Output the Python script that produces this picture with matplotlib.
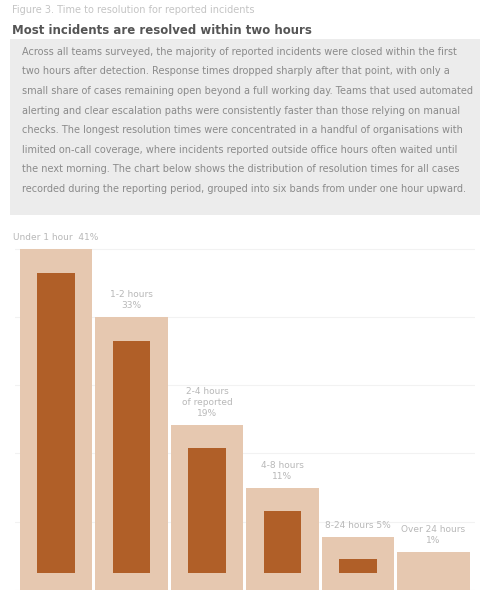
import numpy as np
import matplotlib
matplotlib.use('Agg')
import matplotlib.pyplot as plt
from matplotlib.patches import Rectangle

# -------------------------------
# data
# -------------------------------
categories = ['Under 1 hour', '1-2 hours', '2-4 hours', '4-8 hours', '8-24 hours', 'Over 24 hours']
share_total = [100, 80, 48.5, 30, 15.5, 11]   # light background bars
share_core = [93, 73, 41.5, 23, 9, 0]         # dark inner bars (top)
bar_labels = ['Under 1 hour  41%',
              '1-2 hours\n33%',
              '2-4 hours\nof reported\n19%',
              '4-8 hours\n11%',
              '8-24 hours 5%',
              'Over 24 hours\n1%']

title_small = 'Figure 3. Time to resolution for reported incidents'
title = 'Most incidents are resolved within two hours'
body = ("Across all teams surveyed, the majority of reported incidents were closed within the first\n"
        "two hours after detection. Response times dropped sharply after that point, with only a\n"
        "small share of cases remaining open beyond a full working day. Teams that used automated\n"
        "alerting and clear escalation paths were consistently faster than those relying on manual\n"
        "checks. The longest resolution times were concentrated in a handful of organisations with\n"
        "limited on-call coverage, where incidents reported outside office hours often waited until\n"
        "the next morning. The chart below shows the distribution of resolution times for all cases\n"
        "recorded during the reporting period, grouped into six bands from under one hour upward.")

dark = '#b05f28'
light = '#e6c8b0'
inner_base = 5   # dark bars start a little above the baseline

fig = plt.figure(figsize=(4.87, 6.0), dpi=100)

# -------------------------------
# header + text box
# -------------------------------
fig.text(0.025, 0.984, title_small, fontsize=7, color='#c4c4c4', va='center')
fig.text(0.025, 0.95, title, fontsize=8.5, color='#555555', fontweight='bold', va='center')
fig.patches.append(Rectangle((0.02, 0.642), 0.965, 0.293, transform=fig.transFigure,
                             facecolor='#ececec', edgecolor='none', zorder=0))
fig.text(0.045, 0.922, body, fontsize=7, color='#8a8a8a', va='top', linespacing=2.2)

# -------------------------------
# bar chart
# -------------------------------
ax = fig.add_axes([0.03, 0.017, 0.945, 0.585])
x = np.arange(len(categories))
ax.bar(x, share_total, width=0.96, color=light, zorder=2)
core_h = [max(c - inner_base, 0) for c in share_core]
ax.bar(x, core_h, bottom=inner_base, width=0.5, color=dark, zorder=3)

for xi, v, lab in zip(x, share_total, bar_labels):
    ax.text(xi, v + 2, lab, ha='center', va='bottom', fontsize=6.5,
            color='#b8b8b8', linespacing=1.3)

ax.set_xlim(-0.55, len(categories) - 0.45)
ax.set_ylim(0, 103)
ax.set_yticks([0, 20, 40, 60, 80, 100])
ax.grid(axis='y', color='#f2f2f2', linewidth=0.8, zorder=0)
ax.tick_params(left=False, bottom=False, labelleft=False, labelbottom=False)
for s in ax.spines.values():
    s.set_visible(False)

fig.savefig('out.png', dpi=100)
